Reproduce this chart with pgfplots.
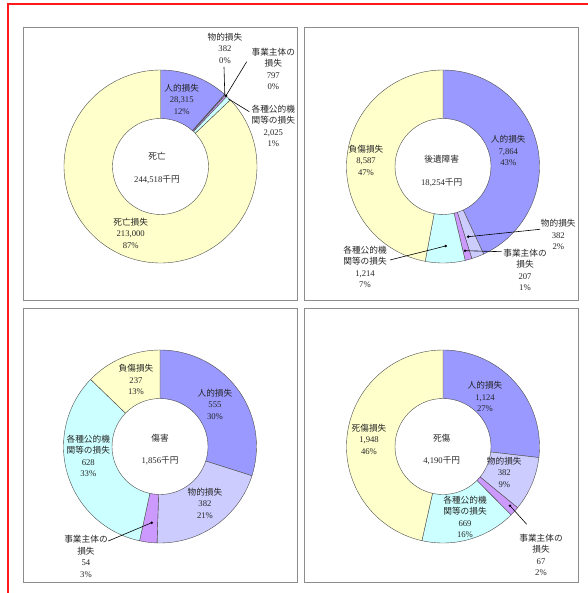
\documentclass[border=0pt]{standalone}
\usepackage{fontspec}
\setmainfont{Liberation Serif}
\newfontfamily\J{Noto Sans CJK JP}
\usepackage{pgfplots}
\usepackage{pgfplotstable}
\pgfplotsset{compat=1.18}
\usetikzlibrary{calc}

\definecolor{slice0}{HTML}{9999FF}
\definecolor{slice1}{HTML}{CCCCFF}
\definecolor{slice2}{HTML}{CC99FF}
\definecolor{slice3}{HTML}{CCFFFF}
\definecolor{slice4}{HTML}{FFFFCC}

% 人的, 物的, 事業主体, 各種公的機関等, 死亡/負傷/死傷
\pgfplotstableread{
v
28315
382
797
2025
213000
}\tabShibou
\pgfplotstableread{
v
7864
382
207
1214
8587
}\tabKoui
\pgfplotstableread{
v
555
382
54
628
237
}\tabShougai
\pgfplotstableread{
v
1124
382
67
669
1948
}\tabShishou

% donut from a table: #1 table, #2/#3 centre in axis units
\newcommand{\donut}[3]{%
  \xdef\dtot{0}%
  \pgfplotstableforeachcolumnelement{v}\of#1\as\dv{\xdef\dtot{\fpeval{\dtot+\dv}}}%
  \xdef\dang{90}%
  \pgfplotstableforeachcolumnelement{v}\of#1\as\dv{%
    \xdef\dend{\fpeval{\dang-360*\dv/\dtot}}%
    \edef\dtmp{\noexpand\filldraw[fill=slice\pgfplotstablerow,draw=black!70,line width=0.4pt]
      ($(axis cs:#2,#3)+(\dang:96.5bp)$) arc[start angle=\dang,end angle=\dend,radius=96.5bp]
      -- ($(axis cs:#2,#3)+(\dend:48bp)$) arc[start angle=\dend,end angle=\dang,radius=48bp] -- cycle;}%
    \dtmp
    \xdef\dang{\dend}%
  }%
}

\pgfplotsset{
  donutbox/.style={
    x=1bp, y=1bp, xmin=0, xmax=274, ymin=0, ymax=273,
    xtick=\empty, ytick=\empty, clip=false, anchor=south west,
    axis line style={draw=black!45, line width=1bp},
  },
}
\tikzset{
  lbl/.style={font=\fontsize{8.7}{11.5}\selectfont, align=center, text=black!85, inner sep=0pt},
  lead/.style={draw=black, line width=0.6pt},
}
\newcommand{\leaddot}[1]{\fill[black] #1 circle[radius=1.4bp];}

\begin{document}
\begin{tikzpicture}
\path[use as bounding box] (0,0) rectangle (588bp,593bp);
\draw[red!90!white, line width=2bp] (8.3bp,0) -- (8.3bp,588.5bp) -- (588bp,588.5bp);

% 死亡
\begin{axis}[donutbox, at={(23bp,292bp)}]
  \donut{\tabShibou}{137.5}{134.5}
  \node[lbl] at (axis cs:134,132.7) {{\J 死亡}\\[11.5pt]244,518{\J 千円}};
  \node[lbl] at (axis cs:158.7,201.7) {{\J 人的損失}\\28,315\\12\%};
  \node[lbl] at (axis cs:107.7,67.7) {{\J 死亡損失}\\213,000\\87\%};
  \node[lbl] at (axis cs:202,252.7) {{\J 物的損失}\\382\\0\%};
  \node[lbl] at (axis cs:250.3,232.3) {{\J 事業主体の}\\{\J 損失}\\797\\0\%};
  \node[lbl] at (axis cs:250.3,175.2) {{\J 各種公的機}\\{\J 関等の損失}\\2,025\\1\%};
  \draw[lead] (axis cs:201,234) -- (axis cs:201.8,206.4);
  \draw[lead] (axis cs:223.7,239.3) -- (axis cs:203,205.3);
  \draw[lead] (axis cs:226.3,189.3) -- (axis cs:205.3,202.2);
  \leaddot{(axis cs:203,205.3)}
\end{axis}

% 後遺障害
\begin{axis}[donutbox, at={(304bp,292bp)}]
  \donut{\tabKoui}{139}{134.5}
  \node[lbl] at (axis cs:137.7,130.2) {{\J 後遺障害}\\[11.5pt]18,254{\J 千円}};
  \node[lbl] at (axis cs:204.3,150.3) {{\J 人的損失}\\7,864\\43\%};
  \node[lbl] at (axis cs:62,141) {{\J 負傷損失}\\8,587\\47\%};
  \node[lbl] at (axis cs:254.3,66.3) {{\J 物的損失}\\382\\2\%};
  \node[lbl] at (axis cs:221,31) {{\J 事業主体の}\\{\J 損失}\\207\\1\%};
  \node[lbl] at (axis cs:61,34.3) {{\J 各種公的機}\\{\J 関等の損失}\\1,214\\7\%};
  \draw[lead] (axis cs:236,71.7) -- (axis cs:164.3,64.3);
  \draw[lead] (axis cs:197.7,49.3) -- (axis cs:161,50.3);
  \draw[lead] (axis cs:86,41) -- (axis cs:141.7,55);
  \leaddot{(axis cs:164.3,64.3)}
  \leaddot{(axis cs:161,50.3)}
  \leaddot{(axis cs:141.7,55)}
\end{axis}

% 傷害
\begin{axis}[donutbox, at={(23bp,11bp)}]
  \donut{\tabShougai}{137}{135.5}
  \node[lbl] at (axis cs:137,132.5) {{\J 傷害}\\[11.5pt]1,856{\J 千円}};
  \node[lbl] at (axis cs:192,177.7) {{\J 人的損失}\\555\\30\%};
  \node[lbl] at (axis cs:182,78.7) {{\J 物的損失}\\382\\21\%};
  \node[lbl] at (axis cs:113,202.3) {{\J 負傷損失}\\237\\13\%};
  \node[lbl] at (axis cs:65.3,126.2) {{\J 各種公的機}\\{\J 関等の損失}\\628\\33\%};
  \node[lbl] at (axis cs:63,25.5) {{\J 事業主体の}\\{\J 損失}\\54\\3\%};
  \draw[lead] (axis cs:85.3,41) -- (axis cs:128.7,59.3);
  \leaddot{(axis cs:128.7,59.3)}
\end{axis}

% 死傷
\begin{axis}[donutbox, at={(304bp,11bp)}]
  \donut{\tabShishou}{139}{135.5}
  \node[lbl] at (axis cs:137.7,132.5) {{\J 死傷}\\[11.5pt]4,190{\J 千円}};
  \node[lbl] at (axis cs:181,185.3) {{\J 人的損失}\\1,124\\27\%};
  \node[lbl] at (axis cs:200.3,109.7) {{\J 物的損失}\\382\\9\%};
  \node[lbl] at (axis cs:65,143) {{\J 死傷損失}\\1,948\\46\%};
  \node[lbl] at (axis cs:161,65.2) {{\J 各種公的機}\\{\J 関等の損失}\\669\\16\%};
  \node[lbl] at (axis cs:237,27.3) {{\J 事業主体の}\\{\J 損失}\\67\\2\%};
  \draw[lead] (axis cs:222.7,57.7) -- (axis cs:206,76.3);
  \leaddot{(axis cs:206,76.3)}
\end{axis}
\end{tikzpicture}
\end{document}
